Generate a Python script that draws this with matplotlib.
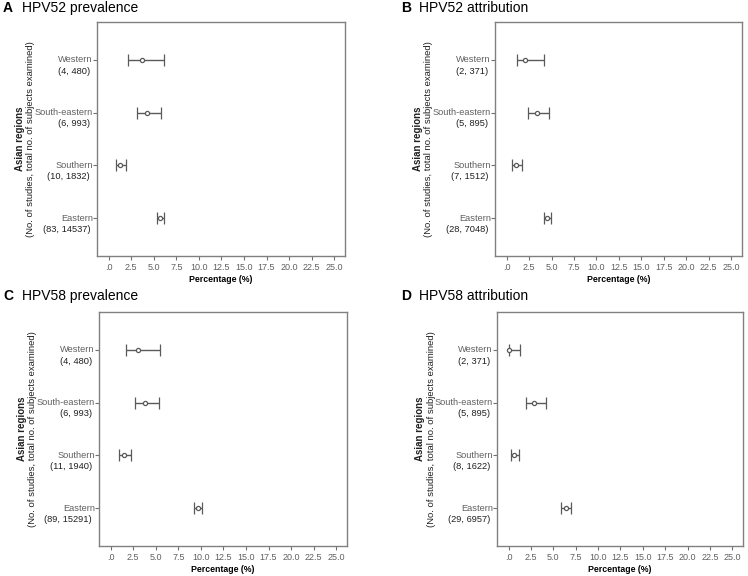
import numpy as np
import matplotlib
matplotlib.use("Agg")
import matplotlib.pyplot as plt
import matplotlib.transforms as mtransforms

plt.rcParams['font.family'] = ['Liberation Sans', 'DejaVu Sans']

# regions, bottom to top as drawn top to bottom
regions = ['Western', 'South-eastern', 'Southern', 'Eastern']
x_ticks = [0, 2.5, 5, 7.5, 10, 12.5, 15, 17.5, 20, 22.5, 25]
x_tick_labels = ['.0', '2.5', '5.0', '7.5', '10.0', '12.5', '15.0', '17.5', '20.0', '22.5', '25.0']

titles = ['HPV52 prevalence', 'HPV52 attribution', 'HPV58 prevalence', 'HPV58 attribution']
letters = ['A', 'B', 'C', 'D']

counts_a = ['(4, 480)', '(6, 993)', '(10, 1832)', '(83, 14537)']
est_a = [3.7, 4.26, 1.22, 5.7]
low_a = [2.15, 3.1, 0.78, 5.3]
high_a = [6.15, 5.85, 1.93, 6.1]

counts_b = ['(2, 371)', '(5, 895)', '(7, 1512)', '(28, 7048)']
est_b = [2.07, 3.33, 1.04, 4.5]
low_b = [1.1, 2.33, 0.6, 4.15]
high_b = [4.15, 4.74, 1.7, 4.96]

counts_c = ['(4, 480)', '(6, 993)', '(11, 1940)', '(89, 15291)']
est_c = [3.06, 3.8, 1.46, 9.67]
low_c = [1.68, 2.69, 0.97, 9.18]
high_c = [5.45, 5.37, 2.2, 10.15]

counts_d = ['(2, 371)', '(5, 895)', '(8, 1622)', '(29, 6957)']
est_d = [0.0, 2.85, 0.6, 6.37]
low_d = [0.0, 1.93, 0.3, 5.8]
high_d = [1.3, 4.19, 1.19, 6.96]

panels = [
    (counts_a, est_a, low_a, high_a),
    (counts_b, est_b, low_b, high_b),
    (counts_c, est_c, low_c, high_c),
    (counts_d, est_d, low_d, high_d),
]

W, H = 748, 576
# axes boxes in pixels: left, right, top, bottom
boxes = [(97, 345, 22, 256), (495, 742, 22, 256), (99, 347, 312, 546), (497, 743, 312, 546)]
# title anchors in pixels: letter x, title x, y
title_pos = [(3, 22, 8), (401, 419, 8), (3, 22, 296), (401, 419, 296)]

fig = plt.figure(figsize=(W / 100, H / 100), dpi=100)
grey = '#707070'

for i in range(4):
    counts, est, low, high = panels[i]
    l, r, t, b = boxes[i]
    ax = fig.add_axes([l / W, 1 - b / H, (r - l) / W, (b - t) / H])
    y = np.arange(len(regions))
    est = np.array(est)
    err = [est - np.array(low), np.array(high) - est]
    ax.errorbar(est, y, xerr=err, fmt='o', ms=3, mfc='white', mec='#5a5a5a', mew=0.9,
                ecolor='#5a5a5a', elinewidth=1.0, capsize=4, capthick=1.0)
    ax.set_xlim(-1.3, 26.2)
    ax.set_ylim(3.72, -0.72)
    ax.set_xticks(x_ticks)
    ax.set_xticklabels(x_tick_labels, fontsize=6.5, color='#606060')
    ax.set_yticks(y)
    ax.set_yticklabels([])
    ax.tick_params(axis='x', length=3, color=grey, pad=2)
    ax.tick_params(axis='y', length=3, color=grey)
    for s in ax.spines.values():
        s.set_color('#808080')
        s.set_linewidth(1.0)

    trans = mtransforms.blended_transform_factory(ax.transAxes, ax.transData)
    off1 = mtransforms.ScaledTranslation(-3 / 72, 0, fig.dpi_scale_trans)
    off2 = mtransforms.ScaledTranslation(-5 / 72, 0, fig.dpi_scale_trans)
    for j, reg in enumerate(regions):
        ax.text(0, j, reg, transform=trans + off1, ha='right', va='center',
                fontsize=6.7, color='#606060')
        ax.text(0, j + 0.21, counts[j], transform=trans + off2, ha='right', va='center',
                fontsize=6.7, color='#202020')

    ax.set_xlabel('Percentage (%)', fontsize=6.3, fontweight='bold', labelpad=2)

    # y label in two lines: bold first, regular second
    yc = 1 - (t + b) / 2 / H
    fig.text((l - 77) / W, yc, 'Asian regions', rotation=90, ha='center', va='center',
             fontsize=7, fontweight='bold', color='#202020')
    fig.text((l - 66) / W, yc, '(No. of studies, total no. of subjects examined)',
             rotation=90, ha='center', va='center', fontsize=6.8, color='#202020')

    # panel title
    lx, tx, ty = title_pos[i]
    fig.text(lx / W, 1 - ty / H, letters[i], fontsize=10, fontweight='bold', ha='left', va='center')
    fig.text(tx / W, 1 - ty / H, titles[i], fontsize=10, ha='left', va='center')

fig.savefig('out.png', dpi=100)
